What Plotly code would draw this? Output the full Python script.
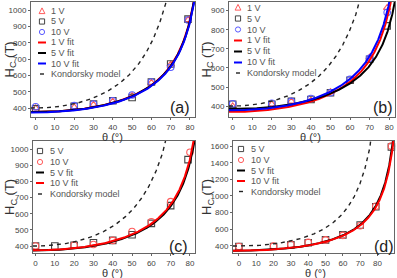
import numpy as np
import plotly.graph_objects as go

W, H = 397, 278
FONT = "Liberation Sans, Arial, sans-serif"

# ---------------- data ----------------
theta_a = [0, 20, 30, 40, 50, 60, 70, 79]
a_1V = [400, 405, 420, 440, 475, 555, 668, 940]
a_5V = [395, 410, 425, 445, 465, 560, 670, 945]
a_10V = [408, 415, 425, 445, 480, 560, 650, 940]

theta_b = [0, 20, 30, 40, 50, 60, 70, 79]
b_1V = [400, 410, 425, 430, 475, 530, 655, 915]
b_5V = [410, 410, 425, 435, 470, 535, 645, 820]
b_10V = [412, 415, 425, 440, 470, 540, 650, 890]

theta_c5 = [0, 10, 20, 30, 40, 50, 60, 70, 79]
c_5V = [400, 400, 405, 420, 435, 470, 540, 650, 935]
theta_c10 = [0, 20, 30, 40, 50, 60, 70, 80]
c_10V = [400, 405, 410, 435, 490, 550, 675, 980]

theta_d = [0, 20, 30, 40, 50, 60, 70, 79, 88]
d_5V = [390, 390, 410, 435, 470, 530, 650, 870, 1590]
d_10V = [390, 395, 415, 440, 470, 525, 640, 875, 1600]

# fit parameters (H0, n, eps) for Hc = H0*((1+eps)/(cos(theta)+eps))^n
fit_a = {"1 V fit": (375, 0.525, 0.0), "5 V fit": (375, 0.52, 0.0), "10 V fit": (373, 0.52, 0.0)}
fit_b = {"1 V fit": (370, 0.51, 0.0), "5 V fit": (385, 0.43, 0.0), "10 V fit": (378, 0.52, 0.0)}
fit_c = {"5 V fit": (372, 0.515, 0.0), "10 V fit": (374, 0.525, 0.0)}
fit_d = {"5 V fit": (340, 0.715, 0.1), "10 V fit": (340, 0.70, 0.1)}
kondorsky_H0 = {"a": 400, "b": 400, "c": 400, "d": 395}

RED, BLACK, BLUE = "#ff0000", "#000000", "#0000ff"
MRED, MBLACK, MBLUE = "#ff5a5a", "#444444", "#5a5aff"


def px(x):
    return x / W


def py(y):
    return 1 - y / H


panels = [
    dict(key="a", xd=(31, 195), yd=(2, 117), xr=[-2.4, 82.6], yr=[345, 1050], dt=100,
         series=[("1 V", theta_a, a_1V, "triangle-up-open", MRED),
                 ("5 V", theta_a, a_5V, "square-open", MBLACK),
                 ("10 V", theta_a, a_10V, "circle-open", MBLUE)],
         fits=[("1 V fit", fit_a["1 V fit"], RED), ("5 V fit", fit_a["5 V fit"], BLACK),
               ("10 V fit", fit_a["10 V fit"], BLUE)],
         leg_y=[11, 21.5, 32, 42.5, 53, 63.5, 74], leg_x=42, leg_tx=49, lab=(180, 107), xt=(113, 130)),
    dict(key="b", xd=(229, 395), yd=(2, 117), xr=[-1.9, 83], yr=[343, 945], dt=100,
         series=[("1 V", theta_b, b_1V, "triangle-up-open", MRED),
                 ("5 V", theta_b, b_5V, "square-open", MBLACK),
                 ("10 V", theta_b, b_10V, "circle-open", MBLUE)],
         fits=[("1 V fit", fit_b["1 V fit"], RED), ("5 V fit", fit_b["5 V fit"], BLACK),
               ("10 V fit", fit_b["10 V fit"], BLUE)],
         leg_y=[7.5, 18.5, 29.5, 40.5, 51.5, 62.5, 73], leg_x=238, leg_tx=245, lab=(383, 107), xt=(310, 130)),
    dict(key="c", xd=(33, 195), yd=(141, 253), xr=[-1.3, 82.6], yr=[357, 1050], dt=100,
         series=[("5 V", theta_c5, c_5V, "square-open", MBLACK),
                 ("10 V", theta_c10, c_10V, "circle-open", MRED)],
         fits=[("5 V fit", fit_c["5 V fit"], BLACK), ("10 V fit", fit_c["10 V fit"], RED)],
         leg_y=[151, 162, 172.5, 183, 194], leg_x=40, leg_tx=48, lab=(178, 246), xt=(112, 265.5)),
    dict(key="d", xd=(233, 394), yd=(141, 253), xr=[-3.4, 89.5], yr=[312, 1662], dt=200,
         series=[("5 V", theta_d, d_5V, "square-open", MBLACK),
                 ("10 V", theta_d, d_10V, "circle-open", MRED)],
         fits=[("5 V fit", fit_d["5 V fit"], BLACK), ("10 V fit", fit_d["10 V fit"], RED)],
         leg_y=[149, 160, 170.5, 181, 191.5], leg_x=241, leg_tx=249, lab=(384, 246), xt=(315, 265.5)),
]

fig = go.Figure()
shapes, annotations = [], []
layout = {}

for i, p in enumerate(panels):
    n = i + 1
    xa = "x" if n == 1 else f"x{n}"
    ya = "y" if n == 1 else f"y{n}"
    th = np.linspace(p["xr"][0], min(p["xr"][1], 89.6), 600)
    c = np.cos(np.radians(th))
    # data markers
    for name, tx, vy, sym, col in p["series"]:
        fig.add_trace(go.Scatter(x=tx, y=vy, mode="markers", xaxis=xa, yaxis=ya, showlegend=False,
                                 marker=dict(symbol=sym, size=6.5, color=col, line=dict(width=1.1, color=col)),
                                 cliponaxis=False))
    # fits
    for name, (h0, nn, eps), col in p["fits"]:
        yv = h0 * ((1 + eps) / (c + eps)) ** nn
        fig.add_trace(go.Scatter(x=th, y=yv, mode="lines", xaxis=xa, yaxis=ya, showlegend=False,
                                 line=dict(color=col, width=2)))
    # Kondorsky model
    yk = kondorsky_H0[p["key"]] / c
    fig.add_trace(go.Scatter(x=th, y=yk, mode="lines", xaxis=xa, yaxis=ya, showlegend=False,
                             line=dict(color="#222222", width=1.4, dash="4px,4px")))

    axcommon = dict(showline=True, mirror=True, linecolor="#666666", linewidth=1, ticks="outside",
                    ticklen=2, tickwidth=1, tickcolor="#666666", showgrid=False, zeroline=False,
                    tickfont=dict(family=FONT, size=8, color="#444444"))
    layout["xaxis" if n == 1 else f"xaxis{n}"] = dict(
        domain=[px(p["xd"][0]), px(p["xd"][1])], range=p["xr"], anchor=ya,
        tickmode="linear", tick0=0, dtick=10, **axcommon)
    layout["yaxis" if n == 1 else f"yaxis{n}"] = dict(
        domain=[py(p["yd"][1]), py(p["yd"][0])], range=p["yr"], anchor=xa,
        tickmode="linear", tick0=0, dtick=p["dt"], **axcommon)

    # legend (manual)
    labels = [s[0] for s in p["series"]] + [f[0] for f in p["fits"]] + ["Kondorsky model"]
    for j, lab in enumerate(labels):
        yy = p["leg_y"][j]
        cx = p["leg_x"]
        if j < len(p["series"]):
            sym, col = p["series"][j][3], p["series"][j][4]
            r = 2.6
            if sym.startswith("square"):
                shapes.append(dict(type="rect", xref="paper", yref="paper", x0=px(cx - r), x1=px(cx + r),
                                   y0=py(yy + r), y1=py(yy - r), line=dict(color=col, width=1)))
            elif sym.startswith("circle"):
                shapes.append(dict(type="circle", xref="paper", yref="paper", x0=px(cx - r), x1=px(cx + r),
                                   y0=py(yy + r), y1=py(yy - r), line=dict(color=col, width=1)))
            else:
                path = (f"M {px(cx - r - 0.3)} {py(yy + r)} L {px(cx + r + 0.3)} {py(yy + r)} "
                        f"L {px(cx)} {py(yy - r - 0.5)} Z")
                shapes.append(dict(type="path", xref="paper", yref="paper", path=path,
                                   line=dict(color=col, width=1)))
        elif lab == "Kondorsky model":
            shapes.append(dict(type="line", xref="paper", yref="paper", x0=px(cx - 2), x1=px(cx + 2),
                               y0=py(yy), y1=py(yy), line=dict(color="#222222", width=1.4)))
        else:
            col = p["fits"][j - len(p["series"])][2]
            shapes.append(dict(type="line", xref="paper", yref="paper", x0=px(cx - 4), x1=px(cx + 4),
                               y0=py(yy), y1=py(yy), line=dict(color=col, width=2)))
        annotations.append(dict(text=lab, xref="paper", yref="paper", x=px(p["leg_tx"]), y=py(yy),
                                xanchor="left", yanchor="middle", showarrow=False,
                                font=dict(family=FONT, size=9, color="#555555")))

    # panel label
    annotations.append(dict(text=f"({p['key']})", xref="paper", yref="paper", x=px(p["lab"][0]),
                            y=py(p["lab"][1]), xanchor="center", yanchor="middle", showarrow=False,
                            font=dict(family=FONT, size=16, color="#222222")))
    # axis titles
    annotations.append(dict(text="θ (°)", xref="paper", yref="paper", x=px(p["xt"][0]), y=py(p["xt"][1]),
                            xanchor="center", yanchor="top", showarrow=False, borderpad=0,
                            font=dict(family=FONT, size=11, color="#333333")))
    ycen = (p["yd"][0] + p["yd"][1]) / 2
    xt = 10 if p["xd"][0] < 100 else 207
    annotations.append(dict(text="H<sub>C</sub> (T)", xref="paper", yref="paper", x=px(xt), y=py(ycen),
                            xanchor="center", yanchor="middle", textangle=-90, showarrow=False,
                            font=dict(family=FONT, size=13, color="#333333")))

fig.update_layout(width=W, height=H, margin=dict(l=0, r=0, t=0, b=0), paper_bgcolor="white",
                  plot_bgcolor="white", showlegend=False, shapes=shapes, annotations=annotations, **layout)
fig.write_html("out.html", config={"displayModeBar": False},
               post_script="document.body.style.margin='0';document.body.style.overflow='hidden';")
